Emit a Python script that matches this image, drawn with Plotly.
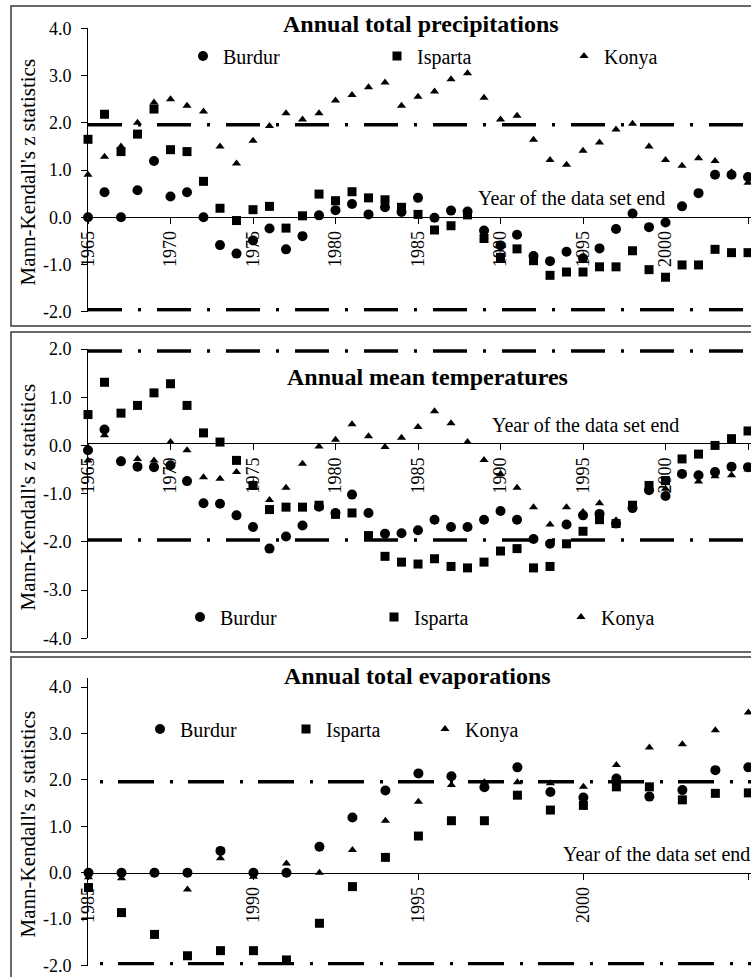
import plotly.graph_objects as go

W, H = 751, 977
FONT = "Liberation Serif"

# ---------------- data ----------------
years_a = list(range(1965, 2006))   # panels 1 and 2: year of the data set end
years_b = list(range(1985, 2006))   # panel 3

precip_burdur = [0.00, 0.53, 0.00, 0.57, 1.19, 0.44, 0.53, 0.00, -0.59, -0.77,
                 -0.49, -0.24, -0.68, -0.40, 0.04, 0.15, 0.28, 0.06, 0.21, 0.11,
                 0.41, -0.01, 0.14, 0.12, -0.28, -0.60, -0.37, -0.82, -0.93, -0.73,
                 -0.87, -0.66, -0.25, 0.08, -0.21, -0.11, 0.23, 0.51, 0.90, 0.90, 0.85]
precip_isparta = [1.65, 2.18, 1.39, 1.76, 2.29, 1.43, 1.39, 0.76, 0.19, -0.07,
                  0.16, 0.23, -0.23, 0.03, 0.49, 0.35, 0.54, 0.41, 0.37, 0.21,
                  0.06, -0.27, -0.18, 0.05, -0.45, -0.85, -0.67, -0.92, -1.23, -1.16,
                  -1.16, -1.05, -1.05, -0.71, -1.11, -1.27, -1.01, -1.01, -0.68, -0.75, -0.75]
precip_konya = [0.90, 1.28, 1.50, 2.00, 2.43, 2.50, 2.36, 2.24, 1.50, 1.14,
                1.62, 1.93, 2.20, 2.07, 2.20, 2.47, 2.59, 2.75, 2.85, 2.36,
                2.55, 2.66, 2.92, 3.05, 2.53, 2.07, 2.15, 1.64, 1.21, 1.11,
                1.41, 1.58, 1.86, 1.98, 1.50, 1.21, 1.09, 1.25, 1.19, 0.95, 0.73]

temp_burdur = [-0.10, 0.33, -0.33, -0.44, -0.45, -0.41, -0.74, -1.20, -1.21, -1.45,
               -1.69, -2.14, -1.89, -1.66, -1.27, -1.40, -1.02, -1.40, -1.83, -1.82,
               -1.76, -1.54, -1.69, -1.69, -1.54, -1.36, -1.54, -1.94, -2.04, -1.64,
               -1.45, -1.42, -1.62, -1.30, -0.93, -1.05, -0.59, -0.62, -0.55, -0.44, -0.45]
temp_isparta = [0.64, 1.31, 0.67, 0.83, 1.09, 1.28, 0.83, 0.26, 0.07, -0.31,
                -0.83, -1.33, -1.28, -1.28, -1.24, -1.43, -1.40, -1.87, -2.30, -2.42,
                -2.46, -2.35, -2.51, -2.54, -2.42, -2.19, -2.14, -2.54, -2.51, -2.04,
                -1.78, -1.54, -1.62, -1.24, -0.83, -0.73, -0.28, -0.18, 0.00, 0.14, 0.30]
temp_konya = [-0.31, 0.21, -0.30, -0.28, -0.31, 0.07, -0.10, -0.66, -0.69, -0.55,
              -0.80, -1.13, -0.88, -0.38, -0.02, 0.12, 0.44, 0.19, -0.03, 0.16,
              0.38, 0.71, 0.46, 0.07, -0.30, -0.59, -0.88, -1.28, -1.64, -1.28,
              -1.38, -1.20, -1.55, -1.27, -0.88, -0.90, -0.60, -0.75, -0.64, -0.62, -0.50]

evap_burdur = [0.00, 0.00, 0.00, 0.00, 0.47, 0.00, 0.00, 0.56, 1.19, 1.77,
               2.14, 2.08, 1.84, 2.27, 1.74, 1.62, 2.03, 1.64, 1.78, 2.21, 2.27]
evap_isparta = [-0.32, -0.86, -1.33, -1.79, -1.68, -1.68, -1.88, -1.09, -0.30, 0.33,
                0.79, 1.12, 1.12, 1.67, 1.35, 1.45, 1.85, 1.85, 1.57, 1.71, 1.72]
evap_konya = [-0.10, -0.12, 0.00, -0.36, 0.31, -0.09, 0.20, 0.00, 0.49, 1.12,
              1.53, 1.89, 1.95, 1.95, 1.93, 1.85, 2.32, 2.70, 2.77, 3.07, 3.45]

# y tick values / labels (hyphen minus as in the original)
yticks_a = [-2, -1, 0, 1, 2, 3, 4]
yticklabels_a = ["-2.0", "-1.0", "0.0", "1.0", "2.0", "3.0", "4.0"]
yticks_b = [-4, -3, -2, -1, 0, 1, 2]
yticklabels_b = ["-4.0", "-3.0", "-2.0", "-1.0", "0.0", "1.0", "2.0"]

stations = ["Burdur", "Isparta", "Konya"]
titles = ["Annual total precipitations", "Annual mean temperatures", "Annual total evaporations"]
z_crit = 1.96
y_title = "Mann-Kendall's z statistics"
x_note = "Year of the data set end"


def px(x):
    return x / W


def py(y):
    return 1 - y / H


symbols = {"Burdur": ("circle", 10), "Isparta": ("square", 9), "Konya": ("triangle-up", 8)}

panels = [
    dict(years=years_a, series=[precip_burdur, precip_isparta, precip_konya],
         yr=[-2, 4], ydom=[py(311.7), py(28.3)], zero=py(216.9), xr=[1965, 2005.18],
         yt=(yticks_a, yticklabels_a),
         title_xy=(421, 24), note_xy=(476, 198), ytitle_y=172.5,
         legend_xy=(183, 56), entry=149, dash="34px,16px,3px,16px",
         box=(6, 326)),
    dict(years=years_a, series=[temp_burdur, temp_isparta, temp_konya],
         yr=[-4, 2], ydom=[py(638.3), py(349)], zero=py(443.3), xr=[1965, 2005.18],
         yt=(yticks_b, yticklabels_b),
         title_xy=(428, 377), note_xy=(490, 425), ytitle_y=497.5,
         legend_xy=(180, 617), entry=149, dash="34px,16px,3px,16px",
         box=(332, 652)),
    dict(years=years_b, series=[evap_burdur, evap_isparta, evap_konya],
         yr=[-2, 4.2], ydom=[py(965.5), py(677.8)], zero=py(872.7), xr=[1984.985, 2005.08],
         yt=(yticks_a, yticklabels_a),
         title_xy=(417, 676), note_xy=(561, 854), ytitle_y=824.5,
         legend_xy=(140, 729), entry=101, dash="0px,12px,3px,15px,36px,4px",
         box=(657, 1000)),
]

fig = go.Figure()
layout = dict(template="none", width=W, height=H, margin=dict(l=0, r=0, t=0, b=0, pad=0),
              autosize=False, paper_bgcolor="white", plot_bgcolor="rgba(0,0,0,0)",
              font=dict(family=FONT, color="black", size=18), showlegend=True)
shapes, annotations = [], []

for i, p in enumerate(panels):
    n = i + 1
    xa = "x" if n == 1 else f"x{n}"
    ya = "y" if n == 1 else f"y{n}"
    lg = "legend" if n == 1 else f"legend{n}"
    item_w = {"Burdur": None, "Isparta": p["entry"] - 7, "Konya": 60}
    for name, vals in zip(stations, p["series"]):
        sym, size = symbols[name]
        fig.add_trace(go.Scatter(x=p["years"], y=vals, mode="markers", name=name,
                                 marker=dict(symbol=sym, size=size, color="black",
                                             line=dict(width=0)),
                                 legendwidth=item_w[name],
                                 xaxis=xa, yaxis=ya, legend=lg, cliponaxis=False))
    xkey = "xaxis" if n == 1 else f"xaxis{n}"
    ykey = "yaxis" if n == 1 else f"yaxis{n}"
    layout[xkey] = dict(domain=[px(88), 1], range=p["xr"], anchor="free", position=p["zero"],
                        showline=True, linecolor="black", linewidth=1, showgrid=False,
                        zeroline=False, ticks="outside", ticklen=6, tickcolor="black",
                        tickwidth=1, tick0=p["years"][0], dtick=5, tickangle=-90,
                        automargin=False,
                        tickfont=dict(family=FONT, size=18, color="black"))
    layout[ykey] = dict(domain=p["ydom"], range=p["yr"], anchor=xa, showline=True,
                        linecolor="black", linewidth=1, showgrid=False, zeroline=False,
                        ticks="outside", ticklen=6, tickcolor="black", tickwidth=1,
                        tickmode="array", tickvals=p["yt"][0], ticktext=p["yt"][1],
                        ticklabelstandoff=6, automargin=False,
                        tickfont=dict(family=FONT, size=18, color="black"))
    layout[lg] = dict(orientation="h", x=px(p["legend_xy"][0]), y=py(p["legend_xy"][1]),
                      xanchor="left", yanchor="middle", entrywidth=p["entry"],
                      entrywidthmode="pixels", bgcolor="rgba(0,0,0,0)", borderwidth=0,
                      font=dict(family=FONT, size=20, color="black"))
    # critical z lines
    for zc in (z_crit, -z_crit):
        shapes.append(dict(type="line", xref=f"{xa} domain", yref=ya, x0=0, x1=1,
                           y0=zc, y1=zc, layer="below",
                           line=dict(color="black", width=3.5, dash=p["dash"])))
    # panel frame
    shapes.append(dict(type="rect", xref="paper", yref="paper", x0=px(11), x1=1.05,
                       y0=py(p["box"][1]), y1=py(p["box"][0]),
                       line=dict(color="#3a3a3a", width=1.5)))
    annotations.append(dict(text=f"<b>{titles[i]}</b>", xref="paper", yref="paper",
                            x=px(p["title_xy"][0]), y=py(p["title_xy"][1]),
                            xanchor="center", yanchor="middle", showarrow=False,
                            font=dict(family=FONT, size=24, color="black")))
    annotations.append(dict(text=x_note, xref="paper", yref="paper",
                            x=px(p["note_xy"][0]), y=py(p["note_xy"][1]),
                            xanchor="left", yanchor="middle", showarrow=False,
                            font=dict(family=FONT, size=20, color="black")))
    annotations.append(dict(text=y_title, xref="paper", yref="paper", textangle=-90,
                            x=px(27), y=py(p["ytitle_y"]), xanchor="center",
                            yanchor="middle", showarrow=False,
                            font=dict(family=FONT, size=21, color="black")))

layout["shapes"] = shapes
layout["annotations"] = annotations
fig.update_layout(**layout)
# the page body gets no margin / scrollbars so the 751x977 figure fills the window exactly
fig.write_html("out.html", config={"displayModeBar": False},
               post_script="document.body.style.margin='0px';"
                           "document.body.style.overflow='hidden';")
